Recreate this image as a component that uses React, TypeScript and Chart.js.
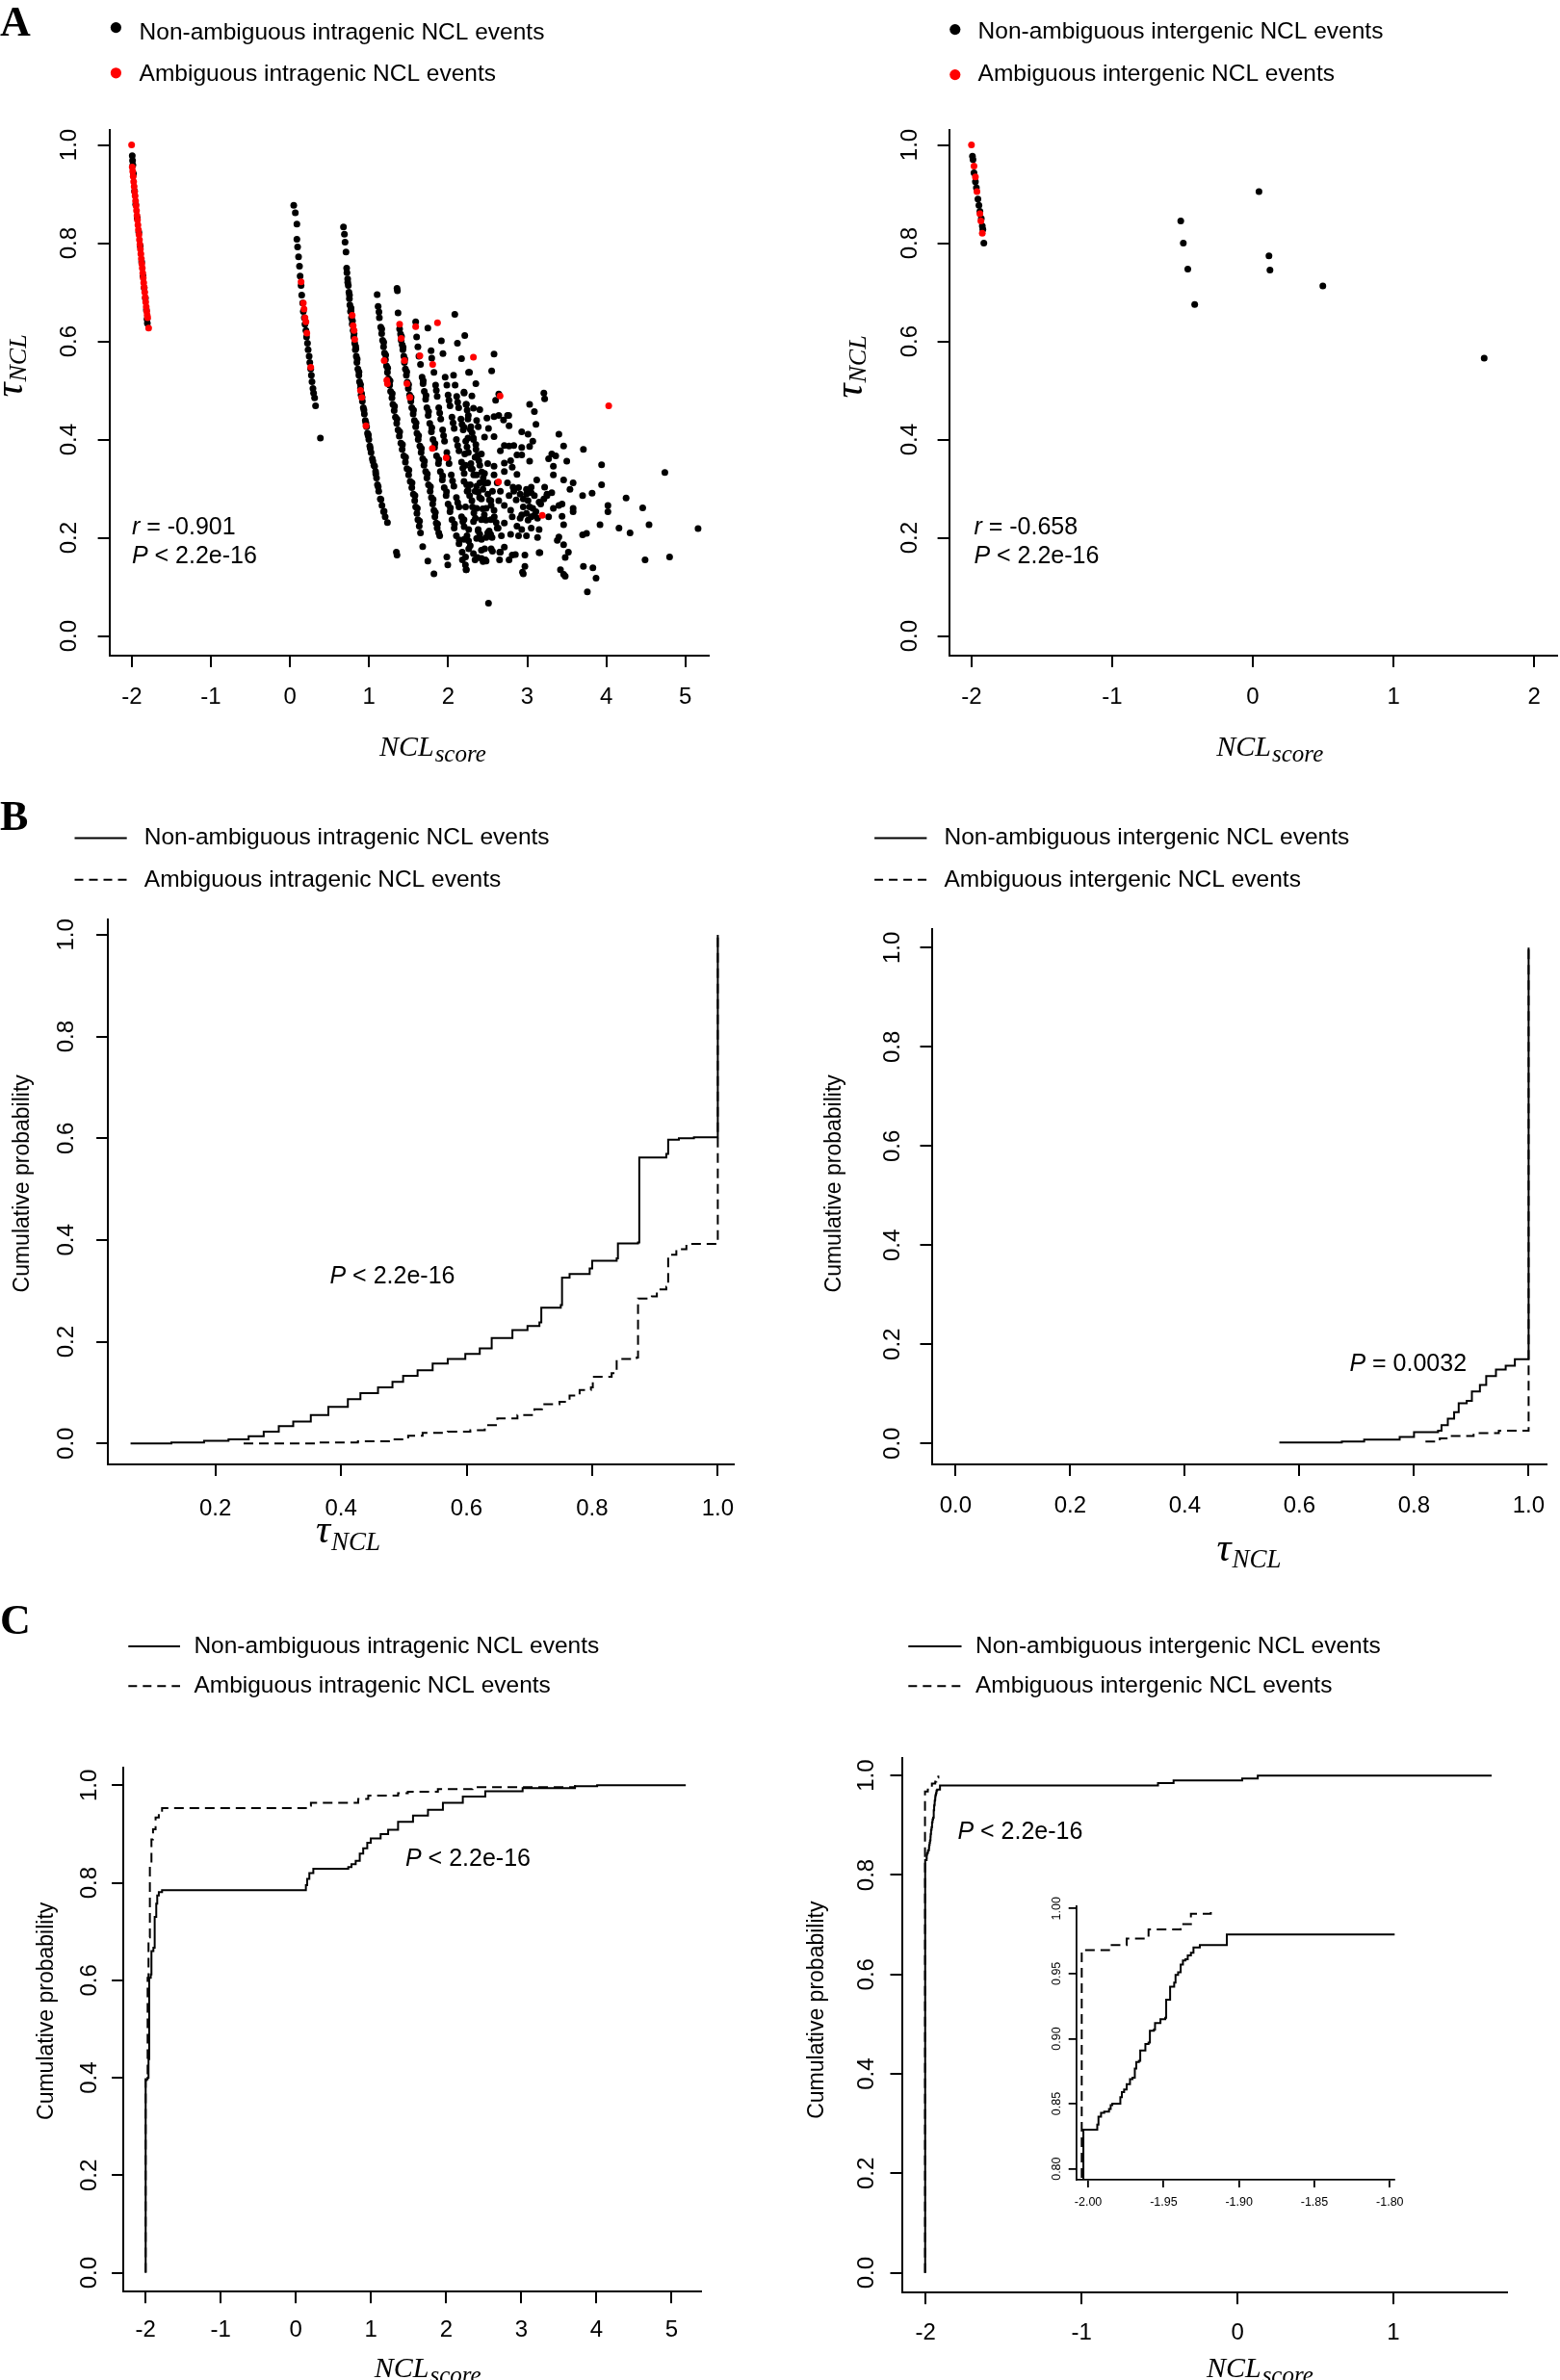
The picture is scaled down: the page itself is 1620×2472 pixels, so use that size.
import React, { useEffect, useRef } from 'react';
import { Chart, registerables } from 'chart.js';

Chart.register(...registerables);

type Pt = [number, number];

const SANS = '"Liberation Sans", Arial, Helvetica, sans-serif';
const SERIF = '"Liberation Serif", "Times New Roman", Times, serif';

// ---------------- tick values / labels ----------------
const A_LEFT_X_TICKS = [-2, -1, 0, 1, 2, 3, 4, 5];
const A_LEFT_X_LABELS = ['-2', '-1', '0', '1', '2', '3', '4', '5'];
const A_RIGHT_X_TICKS = [-2, -1, 0, 1, 2];
const A_RIGHT_X_LABELS = ['-2', '-1', '0', '1', '2'];
const PROB_TICKS = [0, 0.2, 0.4, 0.6, 0.8, 1.0];
const PROB_LABELS = ['0.0', '0.2', '0.4', '0.6', '0.8', '1.0'];
const B_LEFT_X_TICKS = [0.2, 0.4, 0.6, 0.8, 1.0];
const B_LEFT_X_LABELS = ['0.2', '0.4', '0.6', '0.8', '1.0'];
const B_RIGHT_X_TICKS = [0, 0.2, 0.4, 0.6, 0.8, 1.0];
const B_RIGHT_X_LABELS = ['0.0', '0.2', '0.4', '0.6', '0.8', '1.0'];
const C_LEFT_X_TICKS = [-2, -1, 0, 1, 2, 3, 4, 5];
const C_LEFT_X_LABELS = ['-2', '-1', '0', '1', '2', '3', '4', '5'];
const C_RIGHT_X_TICKS = [-2, -1, 0, 1];
const C_RIGHT_X_LABELS = ['-2', '-1', '0', '1'];
const INSET_X_TICKS = [-2.0, -1.95, -1.9, -1.85, -1.8];
const INSET_X_LABELS = ['-2.00', '-1.95', '-1.90', '-1.85', '-1.80'];
const INSET_Y_TICKS = [0.8, 0.85, 0.9, 0.95, 1.0];
const INSET_Y_LABELS = ['0.80', '0.85', '0.90', '0.95', '1.00'];

const LEGEND_INTRA = ['Non-ambiguous intragenic NCL events', 'Ambiguous intragenic NCL events'];
const LEGEND_INTER = ['Non-ambiguous intergenic NCL events', 'Ambiguous intergenic NCL events'];

// ---------------- Panel A: NCL score vs tau (intragenic) ----------------
const A_INTRA_AMBIGUOUS: Pt[] = [
  [-2.003, 1.0], [-1.995, 0.955], [-1.989, 0.946], [-1.983, 0.936], [-1.977, 0.925], [-1.971, 0.915],
  [-1.965, 0.905], [-1.959, 0.896], [-1.953, 0.886], [-1.947, 0.876], [-1.941, 0.866], [-1.935, 0.856],
  [-1.929, 0.847], [-1.923, 0.837], [-1.917, 0.827], [-1.91, 0.817], [-1.904, 0.807], [-1.898, 0.797],
  [-1.892, 0.788], [-1.886, 0.778], [-1.88, 0.768], [-1.874, 0.758], [-1.868, 0.749], [-1.862, 0.739],
  [-1.856, 0.729], [-1.85, 0.719], [-1.844, 0.71], [-1.837, 0.7], [-1.831, 0.69], [-1.825, 0.68],
  [-1.818, 0.67], [-1.812, 0.661], [-1.806, 0.653], [-1.8, 0.648], [-1.788, 0.627],
  [0.14, 0.721], [0.168, 0.678], [0.177, 0.666], [0.189, 0.648], [0.201, 0.64], [0.213, 0.617], [0.262, 0.547],
  [0.786, 0.653], [0.798, 0.632], [0.81, 0.622], [0.818, 0.604], [0.891, 0.5], [0.907, 0.486], [0.96, 0.428],
  [1.191, 0.561], [1.224, 0.521], [1.232, 0.514],
  [1.386, 0.635], [1.406, 0.606], [1.447, 0.561], [1.479, 0.514], [1.516, 0.486],
  [1.589, 0.63], [1.642, 0.571], [1.804, 0.553], [1.865, 0.638], [1.8, 0.382], [1.975, 0.363],
  [2.319, 0.568], [2.656, 0.489], [2.636, 0.314], [3.19, 0.246], [4.03, 0.469],
];

const A_INTRA_NONAMB_ARCS: Pt[] = [
  [-1.995, 0.978], [-1.991, 0.968], [-1.987, 0.959], [-1.979, 0.941], [-1.966, 0.906], [-1.951, 0.879],
  [-1.932, 0.851], [-1.912, 0.822], [-1.894, 0.794], [-1.876, 0.762], [-1.859, 0.733], [-1.844, 0.709],
  [-1.829, 0.688], [-1.816, 0.664], [-1.808, 0.645], [-1.804, 0.637],
  [0.047, 0.877], [0.067, 0.862], [0.087, 0.839], [0.087, 0.808], [0.096, 0.792], [0.108, 0.772], [0.12, 0.753],
  [0.128, 0.733], [0.14, 0.714], [0.148, 0.694], [0.16, 0.678], [0.168, 0.661], [0.181, 0.648], [0.189, 0.635],
  [0.201, 0.622], [0.209, 0.609], [0.221, 0.596], [0.229, 0.583], [0.242, 0.57], [0.25, 0.557], [0.262, 0.544],
  [0.27, 0.531], [0.278, 0.518], [0.29, 0.504], [0.298, 0.495], [0.311, 0.485], [0.323, 0.469], [0.384, 0.403],
  [0.676, 0.833], [0.688, 0.818], [0.696, 0.802], [0.708, 0.782], [0.716, 0.749], [0.72, 0.74], [0.729, 0.727],
  [0.737, 0.714], [0.745, 0.7], [0.751, 0.687], [0.757, 0.674], [0.765, 0.661], [0.777, 0.648], [0.786, 0.635],
  [0.798, 0.622], [0.806, 0.609], [0.818, 0.596], [0.826, 0.583], [0.838, 0.57], [0.846, 0.557], [0.858, 0.544],
  [0.871, 0.531], [0.879, 0.518], [0.891, 0.504], [0.899, 0.491], [0.915, 0.478], [0.927, 0.465], [0.94, 0.452],
  [0.952, 0.439], [0.968, 0.426], [0.98, 0.413], [0.997, 0.4], [1.009, 0.387], [1.025, 0.374], [1.041, 0.361],
  [1.061, 0.348], [1.082, 0.335], [1.094, 0.322], [1.106, 0.308], [1.122, 0.295], [1.142, 0.279], [1.163, 0.266],
  [1.183, 0.253], [1.203, 0.243], [1.232, 0.231], [0.772, 0.662], [0.832, 0.585], [0.905, 0.494], [0.99, 0.41],
  [1.07, 0.346],
  [1.102, 0.695], [1.114, 0.671], [1.13, 0.648], [1.147, 0.629], [1.159, 0.616], [1.171, 0.602], [1.183, 0.589],
  [1.195, 0.576], [1.207, 0.563], [1.22, 0.55], [1.232, 0.537], [1.244, 0.524], [1.26, 0.511], [1.272, 0.498],
  [1.289, 0.485], [1.301, 0.472], [1.317, 0.459], [1.333, 0.446], [1.349, 0.433], [1.366, 0.42], [1.382, 0.407],
  [1.402, 0.393], [1.418, 0.38], [1.439, 0.367], [1.459, 0.354], [1.479, 0.341], [1.5, 0.328], [1.52, 0.315],
  [1.54, 0.302], [1.56, 0.289], [1.577, 0.276], [1.589, 0.263], [1.605, 0.25], [1.617, 0.237], [1.634, 0.224],
  [1.65, 0.21], [1.678, 0.182], [1.743, 0.153], [1.82, 0.127], [1.345, 0.171], [1.353, 0.165],
  [1.353, 0.708], [1.358, 0.703], [1.366, 0.658], [1.386, 0.625], [1.398, 0.615], [1.406, 0.602], [1.419, 0.593],
  [1.427, 0.583], [1.439, 0.57], [1.447, 0.557], [1.459, 0.544], [1.471, 0.531], [1.483, 0.517], [1.496, 0.504],
  [1.512, 0.491], [1.528, 0.478], [1.54, 0.465], [1.557, 0.452], [1.573, 0.439], [1.589, 0.426], [1.605, 0.413],
  [1.621, 0.4], [1.642, 0.387], [1.658, 0.374], [1.678, 0.361], [1.694, 0.348], [1.715, 0.335], [1.731, 0.322],
  [1.751, 0.308], [1.772, 0.295], [1.788, 0.282], [1.804, 0.269], [1.82, 0.256], [1.832, 0.243], [1.849, 0.23],
  [1.861, 0.22], [1.881, 0.21], [1.893, 0.204], [1.983, 0.161], [1.995, 0.145],
  [1.589, 0.64], [1.601, 0.609], [1.617, 0.589], [1.63, 0.57], [1.65, 0.553], [1.67, 0.527], [1.682, 0.514],
  [1.698, 0.498], [1.715, 0.482], [1.731, 0.465], [1.747, 0.449], [1.767, 0.433], [1.788, 0.416], [1.808, 0.4],
  [1.828, 0.384], [1.853, 0.367], [1.877, 0.351], [1.901, 0.335], [1.926, 0.318], [1.95, 0.302], [1.974, 0.286],
  [1.999, 0.269], [2.023, 0.253], [2.048, 0.237], [2.076, 0.22], [2.104, 0.204], [2.137, 0.188], [2.177, 0.171],
  [2.218, 0.145], [2.226, 0.135],
  [1.743, 0.627], [1.784, 0.581], [1.792, 0.566], [1.82, 0.537], [1.841, 0.511], [1.861, 0.488], [1.881, 0.465],
  [1.906, 0.442], [1.93, 0.42], [1.954, 0.397], [1.983, 0.374], [2.011, 0.351], [2.039, 0.328], [2.072, 0.305],
  [2.104, 0.282], [2.137, 0.263], [2.169, 0.243], [2.202, 0.223], [2.238, 0.204], [2.279, 0.184], [2.319, 0.168],
  [2.421, 0.158], [2.441, 0.152],
  [1.914, 0.601], [1.934, 0.575], [1.962, 0.527], [1.983, 0.511], [1.999, 0.491], [2.023, 0.469], [2.048, 0.446],
  [2.076, 0.423], [2.104, 0.4], [2.137, 0.377], [2.169, 0.354], [2.202, 0.331], [2.234, 0.308], [2.271, 0.286],
  [2.307, 0.263], [2.344, 0.24], [2.38, 0.217], [2.421, 0.197], [2.461, 0.178], [2.543, 0.178], [2.652, 0.171],
  [2.068, 0.531], [2.088, 0.511], [2.108, 0.488], [2.133, 0.465], [2.161, 0.442], [2.19, 0.42], [2.222, 0.397],
  [2.255, 0.374], [2.287, 0.351], [2.323, 0.328], [2.36, 0.305], [2.397, 0.282], [2.437, 0.259], [2.478, 0.236],
  [2.518, 0.214], [2.555, 0.201],
  [2.202, 0.495], [2.226, 0.472], [2.255, 0.449], [2.287, 0.426], [2.319, 0.403], [2.352, 0.38], [2.388, 0.357],
  [2.425, 0.334], [2.461, 0.311], [2.502, 0.289], [2.543, 0.266], [2.583, 0.243], [2.632, 0.22], [2.673, 0.204],
  [2.084, 0.655], [2.117, 0.596], [2.169, 0.565], [2.258, 0.537], [2.766, 0.449],
];

// second row of points inside the thick bands
const A_INTRA_NONAMB_BANDS: Pt[] = [
  [0.73, 0.72], [0.752, 0.694], [0.772, 0.668], [0.79, 0.642], [0.81, 0.616], [0.83, 0.59], [0.85, 0.564],
  [0.872, 0.538], [0.892, 0.512], [0.912, 0.486], [0.935, 0.46], [0.96, 0.434], [0.988, 0.408], [1.015, 0.382],
  [1.048, 0.356], [1.085, 0.33], [1.115, 0.304], [1.15, 0.278], [1.19, 0.254],
  [1.125, 0.66], [1.16, 0.625], [1.185, 0.598], [1.21, 0.572], [1.235, 0.546], [1.265, 0.52], [1.293, 0.494],
  [1.322, 0.468], [1.353, 0.442], [1.387, 0.416], [1.422, 0.39], [1.462, 0.364], [1.503, 0.338], [1.543, 0.312],
  [1.58, 0.286], [1.61, 0.26], [1.638, 0.234],
  [1.41, 0.61], [1.43, 0.588], [1.452, 0.564], [1.476, 0.538], [1.5, 0.512], [1.532, 0.486], [1.562, 0.46],
  [1.594, 0.434], [1.626, 0.408], [1.662, 0.382], [1.7, 0.356], [1.736, 0.33], [1.776, 0.304], [1.81, 0.278],
  [1.838, 0.252], [1.866, 0.228],
  [1.685, 0.52], [1.72, 0.49], [1.752, 0.457], [1.793, 0.424], [1.833, 0.392], [1.882, 0.359], [1.93, 0.326],
  [1.979, 0.294], [2.028, 0.261], [2.08, 0.228], [2.14, 0.196],
  [1.85, 0.5], [1.893, 0.454], [1.942, 0.408], [1.997, 0.362], [2.055, 0.316], [2.12, 0.272], [2.185, 0.233],
  [2.258, 0.194],
  [2.01, 0.48], [2.062, 0.434], [2.12, 0.388], [2.185, 0.342], [2.252, 0.297], [2.325, 0.251], [2.4, 0.207],
  [2.12, 0.476], [2.175, 0.431], [2.238, 0.385], [2.305, 0.34], [2.378, 0.293], [2.457, 0.247], [2.537, 0.207],
  [2.24, 0.46], [2.303, 0.414], [2.37, 0.368], [2.443, 0.322], [2.522, 0.277], [2.607, 0.231],
];

const A_INTRA_NONAMB_SPREAD: Pt[] = [
  [2.21, 0.612], [2.58, 0.574], [2.27, 0.537], [2.55, 0.54], [2.35, 0.514], [2.2, 0.497], [2.3, 0.489],
  [2.64, 0.493], [3.21, 0.495], [3.22, 0.483], [2.6, 0.48], [2.23, 0.472], [3.03, 0.472], [3.09, 0.457],
  [2.32, 0.464], [2.4, 0.461], [2.25, 0.442], [2.36, 0.439], [2.49, 0.444], [2.58, 0.447], [2.64, 0.449],
  [2.7, 0.44], [2.75, 0.449], [2.77, 0.428], [3.11, 0.431], [2.2, 0.425], [2.28, 0.421], [2.38, 0.426],
  [2.51, 0.423], [2.93, 0.416], [3.01, 0.411], [3.4, 0.411], [3.07, 0.397], [2.25, 0.403], [2.32, 0.4],
  [2.46, 0.405], [2.58, 0.406], [2.71, 0.388], [2.77, 0.387], [2.83, 0.388], [2.35, 0.39], [3.46, 0.387],
  [3.71, 0.38], [2.66, 0.377], [2.93, 0.384], [3.03, 0.386], [2.87, 0.369], [2.93, 0.369], [2.42, 0.371],
  [2.21, 0.371], [2.34, 0.364], [3.27, 0.361], [3.31, 0.371], [3.36, 0.367], [3.5, 0.356], [3.03, 0.356],
  [2.71, 0.352], [2.79, 0.357], [2.5, 0.351], [2.58, 0.346], [2.81, 0.344], [2.4, 0.348], [2.29, 0.341],
  [2.22, 0.348], [3.94, 0.349], [3.33, 0.346], [3.46, 0.318], [3.33, 0.328], [2.36, 0.328], [2.46, 0.331],
  [2.58, 0.328], [2.71, 0.335], [2.87, 0.329], [3.12, 0.318], [3.22, 0.303], [3.58, 0.312], [3.54, 0.299],
  [3.94, 0.308], [2.82, 0.303], [2.89, 0.302], [3.05, 0.303], [2.2, 0.315], [2.28, 0.308], [2.4, 0.312],
  [2.5, 0.312], [2.62, 0.312], [2.75, 0.312], [2.99, 0.289], [3.09, 0.286], [3.25, 0.289], [3.31, 0.292],
  [3.7, 0.286], [3.82, 0.291], [4.25, 0.281], [2.24, 0.295], [2.34, 0.295], [2.44, 0.299], [2.56, 0.295],
  [2.66, 0.295], [2.77, 0.286], [2.86, 0.277], [3.01, 0.276], [3.15, 0.273], [3.07, 0.26], [3.4, 0.266],
  [3.44, 0.269], [3.58, 0.26], [3.58, 0.253], [4.02, 0.266], [4.02, 0.253], [4.46, 0.261], [2.3, 0.276],
  [2.42, 0.279], [2.54, 0.276], [2.64, 0.276], [2.22, 0.263], [2.36, 0.26], [2.48, 0.26], [2.58, 0.256],
  [2.71, 0.266], [2.79, 0.256], [2.95, 0.263], [3.33, 0.26], [2.81, 0.243], [2.91, 0.24], [2.99, 0.25],
  [3.05, 0.243], [3.27, 0.243], [3.44, 0.244], [3.46, 0.227], [3.92, 0.227], [4.54, 0.227], [2.2, 0.237],
  [2.32, 0.233], [2.42, 0.237], [2.54, 0.237], [2.71, 0.23], [2.87, 0.224], [2.93, 0.217], [3.05, 0.22],
  [3.15, 0.217], [3.4, 0.202], [3.7, 0.206], [3.75, 0.209], [4.16, 0.22], [4.3, 0.21], [5.16, 0.219],
  [2.26, 0.217], [2.38, 0.214], [2.5, 0.21], [2.62, 0.22], [2.79, 0.207], [2.89, 0.204], [2.99, 0.204],
  [3.13, 0.201], [2.2, 0.197], [2.36, 0.199], [2.48, 0.201], [2.71, 0.181], [3.15, 0.17], [2.85, 0.166],
  [3.46, 0.186], [3.52, 0.171], [3.48, 0.16], [2.26, 0.178], [2.42, 0.175], [2.56, 0.173], [2.66, 0.171],
  [2.77, 0.155], [2.22, 0.161], [2.34, 0.155], [2.48, 0.153], [2.97, 0.165], [2.97, 0.142], [2.95, 0.127],
  [3.42, 0.135], [3.46, 0.126], [3.48, 0.122], [3.71, 0.142], [3.83, 0.139], [3.87, 0.118], [4.49, 0.155],
  [4.8, 0.161], [2.23, 0.135], [3.76, 0.09], [2.51, 0.067], [4.74, 0.333],
  [2.83, 0.295], [2.91, 0.289], [2.95, 0.279], [3.03, 0.263], [3.11, 0.253], [3.17, 0.269], [3.21, 0.279],
  [3.25, 0.286], [2.99, 0.299], [3.05, 0.292], [3.09, 0.246], [3.13, 0.24], [3.01, 0.236], [2.93, 0.247],
  [2.18, 0.155], [2.37, 0.16], [2.47, 0.155], [2.65, 0.155], [2.81, 0.165], [2.94, 0.13], [3.16, 0.17], [3.38, 0.195],
];

// ---------------- Panel A: intergenic ----------------
const A_INTER_AMBIGUOUS: Pt[] = [
  [-2.0, 1.0], [-1.982, 0.957], [-1.972, 0.935], [-1.961, 0.905], [-1.94, 0.86], [-1.933, 0.845], [-1.923, 0.82],
];
const A_INTER_NONAMB: Pt[] = [
  [-1.993, 0.977], [-1.989, 0.97], [-1.982, 0.943], [-1.972, 0.925], [-1.965, 0.913], [-1.954, 0.89],
  [-1.947, 0.877], [-1.94, 0.865], [-1.93, 0.85], [-1.923, 0.835], [-1.919, 0.828], [-1.912, 0.8],
  [-0.512, 0.845], [-0.494, 0.8], [-0.462, 0.747], [-0.413, 0.675], [0.044, 0.905], [0.115, 0.774],
  [0.122, 0.745], [0.498, 0.713], [1.645, 0.566],
];

// ---------------- Panel B: ECDF of tau ----------------
const B_INTRA_NONAMB: Pt[] = [
  [0.065, 0], [0.13, 0.002], [0.182, 0.005], [0.221, 0.008], [0.253, 0.014], [0.277, 0.023], [0.301, 0.034],
  [0.324, 0.043], [0.352, 0.056], [0.38, 0.072], [0.411, 0.087], [0.431, 0.099], [0.459, 0.11], [0.482, 0.121],
  [0.499, 0.133], [0.522, 0.144], [0.546, 0.157], [0.57, 0.166], [0.598, 0.176], [0.621, 0.187], [0.64, 0.207],
  [0.673, 0.223], [0.697, 0.231], [0.716, 0.238], [0.719, 0.267], [0.75, 0.272], [0.752, 0.326], [0.764, 0.333],
  [0.796, 0.344], [0.8, 0.359], [0.839, 0.364], [0.841, 0.393], [0.873, 0.395], [0.875, 0.562], [0.918, 0.569],
  [0.921, 0.597], [0.938, 0.6], [0.962, 0.602], [1.0, 0.602], [1.0, 1.0],
];
const B_INTRA_AMB: Pt[] = [
  [0.245, 0], [0.364, 0.002], [0.427, 0.004], [0.483, 0.008], [0.507, 0.015], [0.53, 0.021], [0.57, 0.023],
  [0.606, 0.026], [0.629, 0.036], [0.649, 0.049], [0.681, 0.056], [0.708, 0.067], [0.72, 0.077], [0.748, 0.082],
  [0.764, 0.094], [0.78, 0.105], [0.798, 0.11], [0.801, 0.131], [0.831, 0.138], [0.839, 0.166], [0.871, 0.169],
  [0.873, 0.285], [0.895, 0.289], [0.903, 0.303], [0.918, 0.308], [0.921, 0.371], [0.934, 0.382], [0.95, 0.392],
  [1.0, 0.393], [1.0, 1.0],
];
const B_INTER_NONAMB: Pt[] = [
  [0.565, 0.002], [0.674, 0.004], [0.713, 0.008], [0.775, 0.013], [0.8, 0.023], [0.842, 0.026], [0.848, 0.037],
  [0.859, 0.05], [0.87, 0.063], [0.878, 0.081], [0.892, 0.086], [0.901, 0.105], [0.915, 0.118], [0.926, 0.136],
  [0.943, 0.149], [0.96, 0.157], [0.976, 0.17], [1.0, 0.17], [1.0, 1.0],
];
const B_INTER_AMB: Pt[] = [
  [0.82, 0.004], [0.845, 0.01], [0.859, 0.015], [0.904, 0.021], [0.948, 0.026], [1.0, 0.03], [1.0, 1.0],
];

// ---------------- Panel C: ECDF of NCL score ----------------
const C_INTRA_NONAMB: Pt[] = [
  [-2.0, 0], [-2.0, 0.397], [-1.974, 0.4], [-1.962, 0.438], [-1.953, 0.605], [-1.932, 0.612], [-1.923, 0.66],
  [-1.897, 0.667], [-1.88, 0.73], [-1.859, 0.757], [-1.846, 0.774], [-1.825, 0.781], [-1.782, 0.785],
  [0.133, 0.795], [0.15, 0.808], [0.179, 0.82], [0.232, 0.829], [0.697, 0.832], [0.74, 0.838], [0.796, 0.845],
  [0.85, 0.86], [0.896, 0.871], [0.95, 0.882], [0.996, 0.891], [1.128, 0.9], [1.228, 0.909], [1.36, 0.925],
  [1.559, 0.938], [1.758, 0.95], [1.957, 0.964], [2.222, 0.977], [2.521, 0.988], [3.018, 0.994], [3.715, 0.998],
  [4.01, 1.0], [5.19, 1.0],
];
const C_INTRA_AMB: Pt[] = [
  [-2.0, 0], [-2.0, 0.395], [-1.987, 0.404], [-1.974, 0.605], [-1.962, 0.688], [-1.944, 0.833], [-1.923, 0.889],
  [-1.902, 0.91], [-1.868, 0.934], [-1.825, 0.948], [-1.782, 0.953], [0.133, 0.958], [0.2, 0.964], [0.829, 0.972],
  [0.963, 0.979], [1.36, 0.984], [1.49, 0.987], [1.89, 0.992], [2.35, 0.996], [3.715, 1.0],
];
const C_INTER_NONAMB: Pt[] = [
  [-2.0032, 0], [-2.0032, 0.83], [-1.994, 0.834], [-1.9932, 0.84], [-1.9915, 0.843], [-1.9894, 0.844],
  [-1.9862, 0.846], [-1.9851, 0.849], [-1.984, 0.85], [-1.9787, 0.855], [-1.9777, 0.859], [-1.9762, 0.861],
  [-1.9745, 0.865], [-1.9723, 0.869], [-1.9706, 0.87], [-1.9691, 0.877], [-1.9681, 0.882], [-1.9664, 0.883],
  [-1.9655, 0.891], [-1.9621, 0.896], [-1.96, 0.897], [-1.9591, 0.906], [-1.9564, 0.907], [-1.9557, 0.912],
  [-1.9521, 0.915], [-1.9489, 0.916], [-1.9483, 0.93], [-1.9457, 0.94], [-1.943, 0.943], [-1.9421, 0.949],
  [-1.9404, 0.951], [-1.9387, 0.957], [-1.9372, 0.96], [-1.9355, 0.961], [-1.934, 0.964], [-1.9319, 0.966],
  [-1.9302, 0.97], [-1.926, 0.972], [-1.9081, 0.98], [-0.51, 0.985], [-0.41, 0.99], [0.03, 0.994],
  [0.13, 1.0], [1.63, 1.0],
];
const C_INTER_AMB: Pt[] = [
  [-2.0043, 0], [-2.0043, 0.968], [-1.9862, 0.972], [-1.9745, 0.977], [-1.96, 0.984], [-1.9387, 0.988],
  [-1.9319, 0.996], [-1.9187, 1.0],
];

// ---------------- drawing helpers ----------------
type Ctx = CanvasRenderingContext2D;

function txt(ctx: Ctx, s: string, x: number, y: number, px: number, o: { align?: CanvasTextAlign; baseline?: CanvasTextBaseline; italic?: boolean; bold?: boolean; family?: string } = {}) {
  ctx.font = `${o.italic ? 'italic ' : ''}${o.bold ? 'bold ' : ''}${px}px ${o.family ?? SANS}`;
  ctx.textAlign = o.align ?? 'left';
  ctx.textBaseline = o.baseline ?? 'middle';
  ctx.fillStyle = '#000';
  ctx.fillText(s, x, y);
}

function rtxt(ctx: Ctx, s: string, x: number, y: number, px: number) {
  ctx.save();
  ctx.translate(x, y);
  ctx.rotate(-Math.PI / 2);
  txt(ctx, s, 0, 0, px, { align: 'center' });
  ctx.restore();
}

function stat(ctx: Ctx, x: number, y: number, lead: string, rest: string, px: number) {
  txt(ctx, lead, x, y, px, { italic: true });
  const w = ctx.measureText(lead).width;
  txt(ctx, rest, x + w, y, px);
}

function math(ctx: Ctx, x0: number, y0: number, main: string, sub: string, mainPx: number, subPx: number, drop: number, rotate = false) {
  ctx.save();
  ctx.translate(x0, y0);
  if (rotate) ctx.rotate(-Math.PI / 2);
  const mf = `italic ${mainPx}px ${SERIF}`;
  const sf = `italic ${subPx}px ${SERIF}`;
  ctx.font = mf;
  const w1 = ctx.measureText(main).width;
  ctx.font = sf;
  const w2 = ctx.measureText(sub).width;
  const start = -(w1 + w2 + 1) / 2;
  ctx.fillStyle = '#000';
  ctx.textAlign = 'left';
  ctx.textBaseline = 'alphabetic';
  ctx.font = mf;
  ctx.fillText(main, start, 0);
  ctx.font = sf;
  ctx.fillText(sub, start + w1 + 1, drop);
  ctx.restore();
}

function legendDots(ctx: Ctx, dotX: number, dotYs: number[], textX: number, textYs: number[], labels: string[]) {
  const colors = ['#000000', '#FF0000'];
  dotYs.forEach((y, i) => {
    ctx.beginPath();
    ctx.fillStyle = colors[i];
    ctx.arc(dotX, y, 5.6, 0, Math.PI * 2);
    ctx.fill();
  });
  labels.forEach((l, i) => txt(ctx, l, textX, textYs[i], 24.5));
}

function legendLines(ctx: Ctx, x1: number, x2: number, ys: number[], textX: number, labels: string[]) {
  ctx.save();
  ctx.strokeStyle = '#000';
  ctx.lineWidth = 2;
  ys.forEach((y, i) => {
    ctx.setLineDash(i === 0 ? [] : [9, 6]);
    ctx.beginPath();
    ctx.moveTo(x1, y);
    ctx.lineTo(x2, y);
    ctx.stroke();
  });
  ctx.restore();
  labels.forEach((l, i) => txt(ctx, l, textX, ys[i], 24.5));
}

function letter(ctx: Ctx, s: string, x: number, baseline: number) {
  txt(ctx, s, x, baseline, 44, { bold: true, family: SERIF, baseline: 'alphabetic' });
}

// ---------------- panel specs ----------------
interface AxisSpec { min: number; max: number; ticks: number[]; labels: string[]; pos: number }
interface Spec {
  left: number; top: number; width: number; height: number;
  area: [number, number, number, number];
  tickLen: number; tickPx: number; lineW: number;
  type: 'scatter' | 'line';
  x: AxisSpec; y: AxisSpec;
  datasets: any[];
  decorate: (ctx: Ctx) => void;
}

const pts = (a: Pt[]) => a.map(([x, y]) => ({ x, y }));
const dots = (a: Pt[], color: string) => ({
  data: pts(a), backgroundColor: color, borderColor: color, pointRadius: 3.5, pointBorderWidth: 0, pointHoverRadius: 3.5,
});
const ecdf = (a: Pt[], dashed: boolean) => ({
  data: pts(a), borderColor: '#000', backgroundColor: '#000', borderWidth: 2, pointRadius: 0, pointHoverRadius: 0,
  stepped: 'before', fill: false, tension: 0, borderDash: dashed ? [10, 6] : [],
});

const SPECS: Spec[] = [
  {
    left: 0, top: 0, width: 810, height: 800, area: [113.6, 135.2, 736, 681.1], tickLen: 12, tickPx: 24, lineW: 2,
    type: 'scatter',
    x: { min: -2.284, max: 5.295, ticks: A_LEFT_X_TICKS, labels: A_LEFT_X_LABELS, pos: 724.5 },
    y: { min: -0.04, max: 1.03, ticks: PROB_TICKS, labels: PROB_LABELS, pos: 72.3 },
    datasets: [
      dots(A_INTRA_AMBIGUOUS, '#FF0000'),
      dots(A_INTRA_NONAMB_ARCS, '#000000'),
      dots(A_INTRA_NONAMB_BANDS, '#000000'),
      dots(A_INTRA_NONAMB_SPREAD, '#000000'),
    ],
    decorate: (ctx) => {
      letter(ctx, 'A', 0, 37);
      legendDots(ctx, 120.4, [28.6, 75.8], 144.6, [34, 77.5], LEGEND_INTRA);
      stat(ctx, 136.9, 548.5, 'r', ' = -0.901', 25);
      stat(ctx, 136.9, 578.1, 'P', ' < 2.2e-16', 25);
      math(ctx, 449.4, 785, 'NCL', 'score', 30, 25, 6);
      math(ctx, 23, 380, 'τ', 'NCL', 42, 26, 4, true);
    },
  },
  {
    left: 810, top: 0, width: 810, height: 800, area: [175.6, 135.2, 809.6, 681.1], tickLen: 12, tickPx: 24, lineW: 2,
    type: 'scatter',
    x: { min: -2.159, max: 2.16, ticks: A_RIGHT_X_TICKS, labels: A_RIGHT_X_LABELS, pos: 724.5 },
    y: { min: -0.04, max: 1.03, ticks: PROB_TICKS, labels: PROB_LABELS, pos: 135.3 },
    datasets: [dots(A_INTER_AMBIGUOUS, '#FF0000'), dots(A_INTER_NONAMB, '#000000')],
    decorate: (ctx) => {
      legendDots(ctx, 181.8, [30.6, 77.6], 205.6, [33.2, 77.6], LEGEND_INTER);
      stat(ctx, 201.4, 548.5, 'r', ' = -0.658', 25);
      stat(ctx, 201.4, 578.1, 'P', ' < 2.2e-16', 25);
      math(ctx, 508.8, 785, 'NCL', 'score', 30, 25, 6);
      math(ctx, 85, 381, 'τ', 'NCL', 42, 26, 4, true);
    },
  },
  {
    left: 0, top: 800, width: 810, height: 850, area: [112.1, 154.5, 761.9, 720.9], tickLen: 12, tickPx: 24, lineW: 2,
    type: 'line',
    x: { min: 0.029, max: 1.0253, ticks: B_LEFT_X_TICKS, labels: B_LEFT_X_LABELS, pos: 767 },
    y: { min: -0.041, max: 1.031, ticks: PROB_TICKS, labels: PROB_LABELS, pos: 69.7 },
    datasets: [ecdf(B_INTRA_NONAMB, false), ecdf(B_INTRA_AMB, true)],
    decorate: (ctx) => {
      letter(ctx, 'B', 0, 62);
      legendLines(ctx, 77.5, 131.7, [70.5, 113.8], 149.8, LEGEND_INTRA);
      rtxt(ctx, 'Cumulative probability', 23.2, 429.3, 23);
      stat(ctx, 342.5, 525.7, 'P', ' < 2.2e-16', 25);
      math(ctx, 361.6, 802, 'τ', 'NCL', 42, 27, 8);
    },
  },
  {
    left: 810, top: 800, width: 810, height: 850, area: [157.5, 165.3, 795.5, 720.9], tickLen: 12, tickPx: 24, lineW: 2,
    type: 'line',
    x: { min: -0.0417, max: 1.0304, ticks: B_RIGHT_X_TICKS, labels: B_RIGHT_X_LABELS, pos: 764.2 },
    y: { min: -0.042, max: 1.037, ticks: PROB_TICKS, labels: PROB_LABELS, pos: 117.8 },
    datasets: [ecdf(B_INTER_NONAMB, false), ecdf(B_INTER_AMB, true)],
    decorate: (ctx) => {
      legendLines(ctx, 98.1, 152.4, [70.5, 113.8], 170.5, LEGEND_INTER);
      rtxt(ctx, 'Cumulative probability', 56.8, 429.3, 23);
      stat(ctx, 591.4, 617, 'P', ' = 0.0032', 25);
      math(ctx, 487, 821, 'τ', 'NCL', 42, 27, 7);
    },
  },
  {
    left: 0, top: 1650, width: 810, height: 822, area: [128.1, 186.1, 728.3, 730.3], tickLen: 12, tickPx: 24, lineW: 2,
    type: 'line',
    x: { min: -2.297, max: 5.397, ticks: C_LEFT_X_TICKS, labels: C_LEFT_X_LABELS, pos: 770.6 },
    y: { min: -0.039, max: 1.036, ticks: PROB_TICKS, labels: PROB_LABELS, pos: 93 },
    datasets: [ecdf(C_INTRA_NONAMB, false), ecdf(C_INTRA_AMB, true)],
    decorate: (ctx) => {
      letter(ctx, 'C', 0, 47);
      legendLines(ctx, 133.3, 187, [60, 101.2], 201.4, LEGEND_INTRA);
      rtxt(ctx, 'Cumulative probability', 49.1, 438.8, 23);
      stat(ctx, 421, 281.5, 'P', ' < 2.2e-16', 25);
      math(ctx, 444.2, 819, 'NCL', 'score', 30, 25, 6);
    },
  },
  {
    left: 810, top: 1650, width: 810, height: 822, area: [126.5, 175.6, 755.2, 731.3], tickLen: 12, tickPx: 24, lineW: 2,
    type: 'line',
    x: { min: -2.153, max: 1.73, ticks: C_RIGHT_X_TICKS, labels: C_RIGHT_X_LABELS, pos: 773.3 },
    y: { min: -0.04, max: 1.036, ticks: PROB_TICKS, labels: PROB_LABELS, pos: 90.4 },
    datasets: [ecdf(C_INTER_NONAMB, false), ecdf(C_INTER_AMB, true)],
    decorate: (ctx) => {
      legendLines(ctx, 133.3, 188.5, [60, 101.2], 203, LEGEND_INTER);
      rtxt(ctx, 'Cumulative probability', 38.7, 437.7, 23);
      stat(ctx, 184.4, 253.2, 'P', ' < 2.2e-16', 25);
      math(ctx, 498.4, 819, 'NCL', 'score', 30, 25, 6);
    },
  },
  {
    left: 1040, top: 1950, width: 430, height: 360, area: [77.7, 30, 408.3, 314], tickLen: 8, tickPx: 12.5, lineW: 1.8,
    type: 'line',
    x: { min: -2.0079, max: -1.7968, ticks: INSET_X_TICKS, labels: INSET_X_LABELS, pos: 338 },
    y: { min: 0.7916, max: 1.0017, ticks: INSET_Y_TICKS, labels: INSET_Y_LABELS, pos: 57.7 },
    datasets: [ecdf(C_INTER_NONAMB, false), ecdf(C_INTER_AMB, true)],
    decorate: () => {},
  },
];

function axisOptions(a: AxisSpec, spec: Spec, isX: boolean) {
  return {
    type: 'linear',
    position: isX ? 'bottom' : 'left',
    min: a.min,
    max: a.max,
    afterBuildTicks: (scale: any) => { scale.ticks = a.ticks.map((v) => ({ value: v })); },
    afterFit: (scale: any) => { if (isX) scale.height = spec.tickLen; else scale.width = spec.tickLen; },
    ticks: { display: false },
    grid: { display: true, drawOnChartArea: false, drawTicks: true, tickLength: spec.tickLen, lineWidth: spec.lineW, color: '#000' },
    border: { display: true, width: spec.lineW, color: '#000' },
    title: { display: false },
  };
}

function PanelChart({ spec }: { spec: Spec }) {
  const ref = useRef<HTMLCanvasElement>(null);
  useEffect(() => {
    const canvas = ref.current;
    if (!canvas) return;
    const [l, t, r, b] = spec.area;
    const chart = new Chart(canvas, {
      type: spec.type,
      data: { datasets: spec.datasets },
      options: {
        responsive: false,
        animation: false,
        devicePixelRatio: 1,
        events: [],
        layout: { padding: { left: l - spec.tickLen, top: t, right: spec.width - r, bottom: spec.height - b - spec.tickLen } },
        plugins: { legend: { display: false }, tooltip: { enabled: false } },
        scales: { x: axisOptions(spec.x, spec, true), y: axisOptions(spec.y, spec, false) },
      } as any,
      plugins: [{
        id: 'decor',
        afterDraw: (c: any) => {
          const ctx: Ctx = c.ctx;
          ctx.save();
          const xs = c.scales.x;
          const ys = c.scales.y;
          spec.x.ticks.forEach((v, i) => txt(ctx, spec.x.labels[i], xs.getPixelForValue(v), spec.x.pos, spec.tickPx, { align: 'center' }));
          spec.y.ticks.forEach((v, i) => rtxt(ctx, spec.y.labels[i], spec.y.pos, ys.getPixelForValue(v), spec.tickPx));
          spec.decorate(ctx);
          ctx.restore();
        },
      }],
    } as any);
    return () => chart.destroy();
  }, [spec]);
  return (
    <canvas
      ref={ref}
      width={spec.width}
      height={spec.height}
      style={{ position: 'absolute', left: spec.left, top: spec.top, width: spec.width, height: spec.height }}
    />
  );
}

export default function App() {
  return (
    <div style={{ position: 'absolute', left: 0, top: 0, width: 1620, height: 2472, background: '#ffffff', overflow: 'hidden' }}>
      {SPECS.map((s, i) => <PanelChart key={i} spec={s} />)}
    </div>
  );
}
